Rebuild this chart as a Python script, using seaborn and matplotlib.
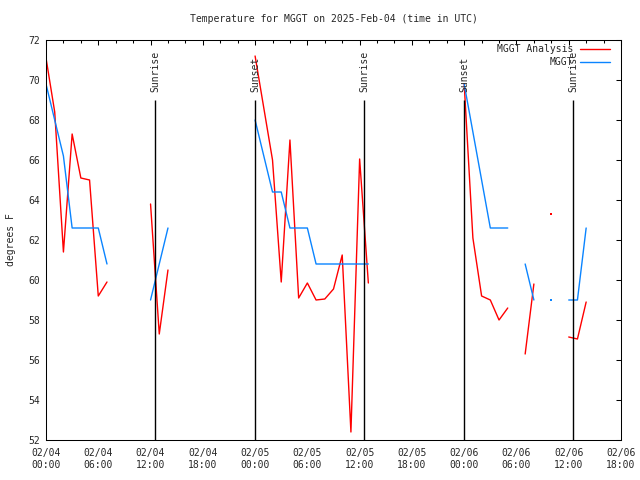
import numpy as np
import pandas as pd
import seaborn as sns
import matplotlib
matplotlib.use("Agg")
import matplotlib.pyplot as plt
from matplotlib.lines import Line2D

nan = np.nan

# hours since 2025-02-04 00:00 UTC, hourly
hours = list(range(0, 63))

# MGGT Analysis (red), NaN = no value (gap in line)
analysis = [71.1, 68.4, 61.4, 67.3, 65.1, 65.0, 59.2, 59.9,
            nan, nan, nan, nan,
            63.8, 57.3, 60.5,
            nan, nan, nan, nan, nan, nan, nan, nan, nan,
            71.2, 68.6, 66.0, 59.9, 67.0, 59.1, 59.85, 59.0, 59.05, 59.55, 61.25, 52.4, 66.05, 59.85,
            nan, nan, nan, nan, nan, nan, nan, nan, nan, nan,
            69.8, 62.1, 59.2, 59.0, 58.0, 58.6,
            nan,
            56.3, 59.8,
            nan,
            63.3,
            nan,
            57.15, 57.05, 58.9]

# MGGT observations (blue)
metar = [69.8, 68.0, 66.2, 62.6, 62.6, 62.6, 62.6, 60.8,
         nan, nan, nan, nan,
         59.0, 60.8, 62.6,
         nan, nan, nan, nan, nan, nan, nan, nan, nan,
         68.0, 66.2, 64.4, 64.4, 62.6, 62.6, 62.6, 60.8, 60.8, 60.8, 60.8, 60.8, 60.8, 60.8,
         nan, nan, nan, nan, nan, nan, nan, nan, nan, nan,
         69.8, 67.4, 65.0, 62.6, 62.6, 62.6,
         nan,
         60.8, 59.0,
         nan,
         59.0,
         nan,
         59.0, 59.0, 62.6]

# sunrise / sunset markers
event_hours = [12.53, 24.0, 36.53, 48.0, 60.53]
event_names = ["Sunrise", "Sunset", "Sunrise", "Sunset", "Sunrise"]

tick_hours = list(range(0, 67, 6))
tick_labels = ["02/04\n00:00", "02/04\n06:00", "02/04\n12:00", "02/04\n18:00",
               "02/05\n00:00", "02/05\n06:00", "02/05\n12:00", "02/05\n18:00",
               "02/06\n00:00", "02/06\n06:00", "02/06\n12:00", "02/06\n18:00"]

colors = {"MGGT Analysis": "#ff0000", "MGGT": "#0a84ff"}

sns.set_style("white")
plt.rcParams["font.family"] = ["DejaVu Sans Mono"]
plt.rcParams["font.size"] = 7

# long table, one unit per unbroken run of values
frames = []
for name, vals in [("MGGT Analysis", analysis), ("MGGT", metar)]:
    s = pd.Series(vals)
    d = pd.DataFrame({"hour": hours, "temp": vals,
                      "seg": s.isna().cumsum().values, "series": name}).dropna()
    d["n"] = d.groupby("seg")["temp"].transform("size")
    d["unit"] = name + d["seg"].astype(str)
    frames.append(d)
df = pd.concat(frames, ignore_index=True)

fig = plt.figure(figsize=(6.4, 4.8), dpi=100)
ax = fig.add_axes([46 / 640, 40 / 480, 575 / 640, 400 / 480])

sns.lineplot(data=df[df["n"] > 1], x="hour", y="temp", hue="series", units="unit",
             estimator=None, sort=False, palette=colors, lw=1.0, legend=False, ax=ax)
sns.scatterplot(data=df[df["n"] == 1], x="hour", y="temp", hue="series",
                palette=colors, marker="s", s=2, linewidth=0, legend=False, ax=ax)

ax.vlines(event_hours, 52, 69, color="black", lw=1.0)
for h, name in zip(event_hours, event_names):
    ax.text(h, 69.4, name, rotation=90, ha="center", va="bottom", fontsize=7)

ax.set_xlim(0, 66)
ax.set_ylim(52, 72)
ax.set_xticks(tick_hours, labels=tick_labels)
ax.set_xticks(range(0, 67, 2), minor=True)
ax.set_yticks(range(52, 73, 2))
ax.tick_params(which="both", direction="in", top=True, right=True,
               width=0.75, color="black", labelsize=7)
ax.tick_params(which="major", length=3.8)
ax.tick_params(which="minor", length=2.2)
ax.tick_params(axis="x", pad=6)
ax.tick_params(axis="y", pad=4)
for sp in ax.spines.values():
    sp.set_visible(True)
    sp.set_color("black")
    sp.set_linewidth(0.75)

ax.set_xlabel("")
ax.set_ylabel("degrees F", fontsize=7)
ax.yaxis.set_label_coords(-0.052, 0.5)
ax.set_title("Temperature for MGGT on 2025-Feb-04 (time in UTC)", fontsize=7, pad=13)

handles = [Line2D([], [], color=colors["MGGT Analysis"], lw=1.0),
           Line2D([], [], color=colors["MGGT"], lw=1.0)]
ax.legend(handles, ["MGGT Analysis", "MGGT"], loc="upper right",
          bbox_to_anchor=(0.981, 0.99), markerfirst=False, frameon=False,
          handlelength=3.1, handletextpad=0.7, labelspacing=0.35,
          borderpad=0, borderaxespad=0, fontsize=7)

fig.savefig("out.png", dpi=100)
